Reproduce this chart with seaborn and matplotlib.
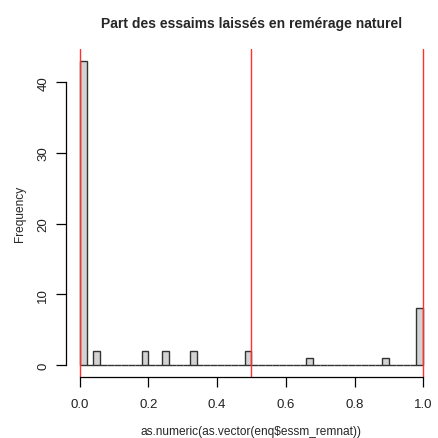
import pandas as pd
import seaborn as sns
import matplotlib.pyplot as plt

# Histogram bins of width 0.02 (bin midpoints) and their counts
bin_mid = [0.01, 0.05, 0.19, 0.25, 0.33, 0.49, 0.67, 0.89, 0.99]
counts = [43, 2, 2, 2, 2, 2, 1, 1, 8]
ref_lines = [0.0, 0.5, 1.0]
x_ticks = [0.0, 0.2, 0.4, 0.6, 0.8, 1.0]
y_ticks = [0, 10, 20, 30, 40]

df = pd.DataFrame({"value": bin_mid, "n": counts})

sns.set_style("white")
plt.rcParams["font.family"] = ["Liberation Sans", "DejaVu Sans"]

fig = plt.figure(figsize=(4.38, 4.39), dpi=100)
ax = fig.add_axes([66 / 438, 1 - 378 / 439, 371 / 438, 328 / 439])

sns.histplot(
    data=df, x="value", weights="n",
    binwidth=0.02, binrange=(0, 1),
    color="#d3d3d3", edgecolor="#333333", linewidth=1.0, alpha=1,
    ax=ax,
)

for v in ref_lines:
    ax.axvline(v, color="#ff3030", linewidth=1.0)

ax.set_xlim(-0.04, 1.04)
ax.set_ylim(-1.72, 44.72)

ax.set_xticks(x_ticks)
ax.set_xticklabels([f"{t:.1f}" for t in x_ticks])
ax.set_yticks(y_ticks)
ax.set_yticklabels([str(t) for t in y_ticks], rotation=90, va="center")

for side in ["top", "right"]:
    ax.spines[side].set_visible(False)
ax.spines["left"].set_bounds(0, 40)
ax.spines["bottom"].set_bounds(0, 1)
for side in ["left", "bottom"]:
    ax.spines[side].set_color("black")
    ax.spines[side].set_linewidth(0.9)

ax.tick_params(axis="both", direction="out", length=7, width=0.9,
               color="black", labelsize=9.5, labelcolor="#222222",
               left=True, bottom=True)
ax.tick_params(axis="x", pad=8)
ax.tick_params(axis="y", pad=5)

ax.set_xlabel("as.numeric(as.vector(enq$essm_remnat))", fontsize=8.6, labelpad=11)
ax.set_ylabel("Frequency", fontsize=8.6, labelpad=8)
ax.set_title("Part des essaims laissés en remérage naturel",
             fontsize=10, fontweight="bold", pad=16)

fig.savefig("out.png", dpi=100)
